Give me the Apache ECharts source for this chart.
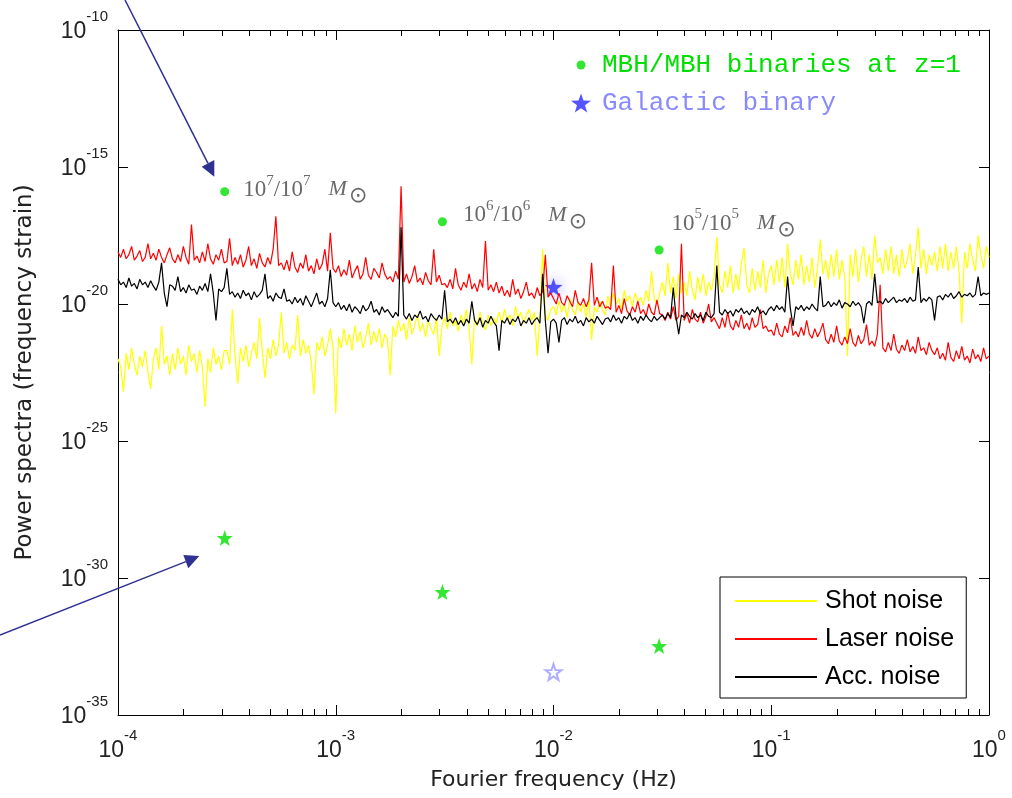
<!DOCTYPE html>
<html>
<head>
<meta charset="utf-8">
<title>Noise power spectra</title>
<script src="https://cdn.jsdelivr.net/npm/echarts@6/dist/echarts.min.js"></script>
<style>
html, body { margin: 0; padding: 0; background: #fff; }
#chart { width: 1012px; height: 798px; }
</style>
</head>
<body>
<div id="chart"></div>
<script>
// log10 of frequency (Hz) of each noise sample
const freqExp = [
    -4, -3.9875, -3.975, -3.9625, -3.95, -3.9375, -3.925, -3.9125, -3.9, -3.8875, -3.875, -3.8625, -3.85, -3.8375, -3.825, -3.8125, -3.8, -3.7875, -3.775, -3.7625,
    -3.75, -3.7375, -3.725, -3.7125, -3.7, -3.6875, -3.675, -3.6625, -3.65, -3.6375, -3.625, -3.6125, -3.6, -3.5875, -3.575, -3.5625, -3.55, -3.5375, -3.525, -3.5125,
    -3.5, -3.4875, -3.475, -3.4625, -3.45, -3.4375, -3.425, -3.4125, -3.4, -3.3875, -3.375, -3.3625, -3.35, -3.3375, -3.325, -3.3125, -3.3, -3.2875, -3.275, -3.2625,
    -3.25, -3.2375, -3.225, -3.2125, -3.2, -3.1875, -3.175, -3.1625, -3.15, -3.1375, -3.125, -3.1125, -3.1, -3.0875, -3.075, -3.0625, -3.05, -3.0375, -3.025, -3.0125,
    -3, -2.9875, -2.975, -2.9625, -2.95, -2.9375, -2.925, -2.9125, -2.9, -2.8875, -2.875, -2.8625, -2.85, -2.8375, -2.825, -2.8125, -2.8, -2.7875, -2.775, -2.7625,
    -2.75, -2.7375, -2.725, -2.7125, -2.7, -2.6875, -2.675, -2.6625, -2.65, -2.6375, -2.625, -2.6125, -2.6, -2.5875, -2.575, -2.5625, -2.55, -2.5375, -2.525, -2.5125,
    -2.5, -2.4875, -2.475, -2.4625, -2.45, -2.4375, -2.425, -2.4125, -2.4, -2.3875, -2.375, -2.3625, -2.35, -2.3375, -2.325, -2.3125, -2.3, -2.2875, -2.275, -2.2625,
    -2.25, -2.2375, -2.225, -2.2125, -2.2, -2.1875, -2.175, -2.1625, -2.15, -2.1375, -2.125, -2.1125, -2.1, -2.0875, -2.075, -2.0625, -2.05, -2.0375, -2.025, -2.0125,
    -2, -1.9875, -1.975, -1.9625, -1.95, -1.9375, -1.925, -1.9125, -1.9, -1.8875, -1.875, -1.8625, -1.85, -1.8375, -1.825, -1.8125, -1.8, -1.7875, -1.775, -1.7625,
    -1.75, -1.7375, -1.725, -1.7125, -1.7, -1.6875, -1.675, -1.6625, -1.65, -1.6375, -1.625, -1.6125, -1.6, -1.5875, -1.575, -1.5625, -1.55, -1.5375, -1.525, -1.5125,
    -1.5, -1.4875, -1.475, -1.4625, -1.45, -1.4375, -1.425, -1.4125, -1.4, -1.3875, -1.375, -1.3625, -1.35, -1.3375, -1.325, -1.3125, -1.3, -1.2875, -1.275, -1.2625,
    -1.25, -1.2375, -1.225, -1.2125, -1.2, -1.1875, -1.175, -1.1625, -1.15, -1.1375, -1.125, -1.1125, -1.1, -1.0875, -1.075, -1.0625, -1.05, -1.0375, -1.025, -1.0125,
    -1, -0.9875, -0.975, -0.9625, -0.95, -0.9375, -0.925, -0.9125, -0.9, -0.8875, -0.875, -0.8625, -0.85, -0.8375, -0.825, -0.8125, -0.8, -0.7875, -0.775, -0.7625,
    -0.75, -0.7375, -0.725, -0.7125, -0.7, -0.6875, -0.675, -0.6625, -0.65, -0.6375, -0.625, -0.6125, -0.6, -0.5875, -0.575, -0.5625, -0.55, -0.5375, -0.525, -0.5125,
    -0.5, -0.4875, -0.475, -0.4625, -0.45, -0.4375, -0.425, -0.4125, -0.4, -0.3875, -0.375, -0.3625, -0.35, -0.3375, -0.325, -0.3125, -0.3, -0.2875, -0.275, -0.2625,
    -0.25, -0.2375, -0.225, -0.2125, -0.2, -0.1875, -0.175, -0.1625, -0.15, -0.1375, -0.125, -0.1125, -0.1, -0.0875, -0.075, -0.0625, -0.05, -0.0375, -0.025, -0.0125,
    0
]
// log10 of the power spectra
const shotExp = [
    -22.0, -22.3, -23.2, -21.8, -22.4, -21.6, -22.2, -22.6, -21.9, -22.3, -21.7, -22.5, -23.1, -22.0, -21.6, -22.4, -20.8, -22.2, -21.9, -22.6,
    -21.8, -22.4, -21.6, -22.2, -21.9, -22.6, -21.5, -22.1, -21.8, -22.5, -21.7, -22.3, -23.75, -22.0, -22.5, -21.6, -22.2, -21.9, -22.4, -21.7,
    -21.7, -22.2, -20.2, -21.9, -22.9, -21.6, -22.1, -21.5, -22.3, -21.8, -21.4, -22.0, -20.5, -21.7, -22.7, -21.6, -22.0, -21.3, -21.9, -21.5,
    -20.3, -21.8, -21.4, -22.0, -21.5, -21.7, -20.4, -21.9, -21.3, -21.8, -21.5, -22.1, -23.3, -21.4, -21.7, -21.2, -21.9, -21.5, -20.9, -21.6,
    -24.0, -21.2, -21.6, -20.9, -21.5, -21.1, -21.7, -20.8, -21.4, -21.0, -21.6, -21.2, -20.7, -21.5, -21.0, -21.4, -20.9, -21.6, -21.1, -21.3,
    -22.6, -20.8, -21.2, -20.6, -21.0, -20.7, -21.3, -20.5, -21.1, -20.8, -20.4, -21.0, -20.7, -21.2, -20.6, -20.9, -21.1, -20.5, -21.9, -20.8,
    -20.5, -20.9, -20.3, -20.8, -20.6, -21.0, -20.4, -20.7, -20.2, -20.9, -22.2, -20.5, -20.8, -20.3, -20.7, -20.95, -20.4, -20.8, -20.5, -20.7,
    -20.3, -20.7, -20.2, -20.6, -20.4, -20.8, -20.1, -20.5, -20.3, -20.7, -20.4, -20.2, -20.6, -20.3, -21.9, -20.5, -18.0, -20.4, -20.6, -20.2,
    -20.1, -20.4, -19.9, -20.3, -20.0, -20.5, -19.8, -20.2, -20.4, -19.9, -20.3, -20.0, -20.5, -19.8, -21.3, -20.1, -20.3, -19.9, -20.2, -20.4,
    -19.7, -20.1, -19.6, -20.0, -19.8, -20.2, -19.5, -19.9, -19.7, -20.1, -19.6, -19.95, -19.75, -20.05, -19.5, -19.9, -18.8, -19.8, -20.0, -19.6,
    -19.2, -19.7, -18.5, -19.6, -19.0, -19.8, -18.9, -19.6, -19.2, -19.7, -18.8, -19.5, -19.85, -19.0, -19.6, -18.9, -19.7, -19.2, -19.5, -19.0,
    -17.55, -19.3, -19.6, -18.8, -19.4, -18.6, -19.6, -18.9, -19.5, -18.5, -17.95, -19.3, -19.6, -18.7, -19.5, -18.8, -19.4, -18.4, -19.6, -18.9,
    -18.6, -19.3, -18.4, -19.2, -18.3, -19.4, -17.8, -18.9, -19.3, -18.4, -19.1, -18.2, -19.3, -18.6, -19.2, -18.3, -19.4, -18.7, -17.65, -18.9,
    -18.4, -19.1, -18.2, -19.0, -18.0, -19.1, -18.4, -19.0, -21.9, -18.2, -19.0, -18.0, -19.2, -18.4, -17.9, -19.0, -18.2, -19.1, -17.5, -18.5,
    -18.3, -18.9, -18.0, -18.8, -17.9, -18.9, -18.2, -19.0, -18.0, -18.7, -18.4, -17.8, -18.9, -18.2, -17.2, -18.7, -18.0, -18.9, -18.2, -18.6,
    -18.1, -18.8, -17.9, -18.7, -17.8, -18.8, -18.1, -18.7, -17.9, -18.8, -20.7, -18.1, -18.7, -17.8, -18.4, -18.8, -17.5, -18.2, -18.7, -17.9,
    -18.3
]
const laserExp = [
    -18.1, -18.3, -18.0, -18.35, -18.2, -17.9, -18.4, -18.25, -18.05, -18.45, -18.3, -17.8, -18.35, -18.15, -18.4, -18.0, -18.3, -18.5, -18.2, -17.95,
    -18.35, -18.5, -18.2, -18.45, -17.9, -18.3, -18.55, -17.1, -18.4, -18.25, -18.5, -18.1, -18.45, -17.8, -18.35, -18.55, -18.2, -18.4, -18.0, -18.5,
    -18.45, -17.6, -18.6, -18.3, -18.55, -18.2, -18.65, -18.4, -17.9, -18.6, -18.35, -18.7, -18.15, -18.5, -18.65, -18.3, -18.55, -18.0, -16.8, -18.6,
    -18.5, -18.75, -18.4, -18.8, -18.1, -18.65, -18.85, -18.5, -18.7, -18.2, -18.8, -18.6, -18.9, -18.35, -18.75, -18.55, -18.0, -18.8, -17.4, -18.7,
    -18.85, -18.6, -19.0, -18.75, -18.95, -18.4, -19.05, -18.8, -18.6, -19.1, -18.9, -18.3, -18.95, -19.1, -18.7, -18.85, -19.05, -18.5, -18.9, -19.1,
    -19.0, -19.2, -18.8, -19.1, -15.7, -19.2, -18.9, -19.25, -19.0, -18.6, -19.2, -19.05, -19.3, -18.85, -19.15, -19.3, -18.0, -19.2, -18.95, -19.3,
    -19.25, -19.4, -19.1, -19.45, -18.7, -19.3, -19.5, -19.2, -19.4, -18.9, -19.45, -19.25, -19.55, -19.1, -19.4, -17.7, -19.5, -19.3, -19.55, -19.2,
    -19.6, -19.35, -19.7, -19.5, -19.75, -19.1, -19.65, -19.45, -19.8, -19.55, -19.2, -19.7, -19.6, -19.8, -19.4, -19.7, -19.55, -18.2, -19.75, -19.6,
    -19.8, -20.0, -19.6, -19.95, -20.05, -19.7, -19.9, -20.1, -19.5, -19.95, -20.05, -19.8, -20.1, -19.85, -18.5, -20.05, -19.75, -20.1, -19.9, -20.15,
    -20.1, -20.2, -18.6, -20.3, -20.05, -20.35, -19.8, -20.25, -20.4, -20.1, -20.3, -19.9, -20.35, -20.2, -20.45, -20.0, -20.3, -20.4, -19.85, -20.35,
    -20.4, -20.6, -20.3, -20.55, -20.1, -20.6, -20.45, -17.8, -20.6, -20.35, -20.7, -20.2, -20.55, -20.65, -20.3, -20.7, -20.45, -20.0, -20.65, -20.5,
    -20.7, -20.9, -20.5, -20.85, -20.3, -20.8, -20.95, -20.6, -20.85, -20.4, -20.9, -20.7, -20.95, -20.5, -20.85, -20.75, -20.2, -20.9, -20.8, -21.0,
    -20.95, -21.15, -20.7, -21.1, -21.2, -20.8, -21.05, -20.5, -21.15, -21.0, -21.2, -20.85, -21.15, -20.6, -21.1, -21.25, -20.9, -21.2, -21.0, -20.7,
    -21.3, -21.45, -21.1, -21.4, -20.8, -21.35, -21.5, -21.2, -21.45, -20.9, -21.4, -21.55, -21.15, -21.45, -21.3, -20.75, -21.5, -21.35, -21.55, -21.1,
    -19.3, -21.6, -21.75, -21.4, -21.7, -21.1, -21.65, -21.8, -21.5, -21.7, -21.3, -21.75, -21.55, -21.8, -21.2, -21.7, -21.6, -21.85, -21.4, -21.7,
    -21.85, -21.6, -22.0, -21.8, -22.05, -21.4, -21.95, -22.1, -21.7, -22.0, -21.55, -22.05, -21.9, -22.15, -21.65, -22.0, -21.85, -22.1, -21.6, -22.0,
    -21.9
]
const accExp = [
    -19.1, -19.3, -19.2, -19.4, -19.05, -19.35, -19.25, -19.45, -19.1, -19.3, -19.2, -19.4, -19.15, -19.35, -19.5, -19.2, -18.5, -19.6, -20.1, -19.3,
    -19.35, -19.5, -19.0, -19.55, -19.4, -19.6, -19.3, -19.5, -19.45, -19.65, -19.35, -19.5, -19.25, -19.55, -18.9, -19.6, -20.6, -19.45, -19.55, -19.4,
    -18.7, -19.65, -19.55, -19.75, -19.6, -19.8, -19.5, -19.7, -19.6, -19.85, -19.55, -19.75, -19.65, -19.5, -18.9, -19.8, -19.7, -19.9, -19.6, -19.75,
    -19.8, -19.45, -19.9, -19.85, -20.0, -19.75, -19.95, -19.8, -20.05, -19.7, -19.9, -20.1, -19.85, -19.6, -20.0, -19.9, -20.1, -19.8, -18.75, -19.95,
    -20.1, -19.95, -20.2, -20.05, -20.25, -20.0, -20.3, -20.1, -20.2, -20.35, -20.05, -20.25, -20.15, -19.9, -20.3, -20.2, -20.4, -20.1, -20.3, -20.2,
    -20.35, -20.5, -20.3, -20.45, -17.2, -20.4, -20.55, -20.35, -20.6, -20.4, -20.5, -20.25, -20.55, -20.45, -20.65, -20.35, -20.5, -20.6, -20.4, -20.55,
    -19.5, -20.65, -20.55, -20.7, -20.5, -20.75, -20.6, -20.8, -20.55, -20.7, -19.9, -20.6, -20.75, -20.5, -20.85, -20.6, -20.7, -20.45, -20.65, -20.8,
    -21.7, -20.6, -20.7, -20.5, -20.75, -20.55, -20.65, -20.45, -20.8, -20.6, -20.7, -20.5, -20.75, -20.6, -20.5, -20.7, -18.9, -20.6, -21.8, -20.65,
    -20.55, -20.7, -21.4, -20.6, -20.5, -20.75, -20.55, -20.65, -20.45, -20.7, -20.6, -20.8, -20.5, -20.65, -20.55, -20.7, -20.45, -20.6, -20.75, -20.55,
    -20.5, -20.65, -20.4, -20.6, -20.5, -20.7, -20.45, -20.55, -20.35, -20.6, -20.5, -20.7, -20.45, -20.6, -20.4, -20.55, -20.65, -20.45, -20.6, -20.5,
    -20.4, -20.55, -20.35, -20.5, -19.4, -20.45, -21.1, -20.4, -20.5, -20.3, -20.45, -20.55, -20.35, -20.5, -20.4, -20.6, -20.3, -20.45, -20.5, -20.35,
    -18.6, -20.3, -20.4, -20.2, -20.35, -20.25, -20.45, -20.2, -20.3, -20.15, -20.35, -20.25, -20.4, -20.2, -20.3, -20.1, -20.35, -20.25, -20.4, -20.2,
    -20.1, -20.25, -20.05, -20.2, -20.1, -20.3, -19.0, -20.15, -20.8, -20.1, -20.2, -20.05, -20.25, -20.1, -20.2, -20.0, -20.15, -20.25, -19.0, -20.1,
    -20.05, -19.9, -20.1, -19.95, -20.05, -19.85, -20.15, -19.95, -20.0, -20.1, -19.9, -20.05, -19.95, -20.1, -20.7, -20.0, -19.9, -20.05, -18.9, -19.95,
    -19.9, -20.0, -19.8, -19.95, -19.85, -19.75, -19.95, -19.85, -19.9, -19.8, -19.95, -19.75, -19.9, -19.85, -18.65, -19.95, -19.8, -19.9, -19.75, -19.85,
    -20.6, -19.75, -19.7, -19.85, -19.65, -19.75, -19.6, -19.8, -19.7, -19.55, -19.75, -19.65, -19.7, -19.6, -19.75, -19.65, -19.0, -19.7, -19.6, -19.65,
    -19.6
]

// MBH/MBH binaries at z=1 (masses 10^7, 10^6, 10^5 Msun)
const mbhMassExp = [7, 6, 5]
const mbhFreqExp = [-3.51, -2.51, -1.515]
const mbhPeakExp = [-15.9, -17.0, -18.03]
const mbhStarExp = [-28.54, -30.51, -32.48]
// galactic binary
const galFreqExp = [-2.0]
const galPeakExp = [-19.38]
const galStarExp = [-33.43]

const xTickExp = [-4, -3, -2, -1, 0]
const yTickExp = [-35, -30, -25, -20, -15, -10]

// minor ticks at 2..9 x 10^n
const xMinorTicks = []
for (let d = -4; d < 0; d++) {
    for (let k = 2; k <= 9; k++) xMinorTicks.push(d + Math.log10(k))
}

// label shifts for the mass annotations (style only)
const massLabelShift = [[0, -3], [2, -8], [-6, -28]]

const starPath = 'path://M0,-10L2.35,-3.24L9.51,-3.09L3.8,1.24L5.88,8.09L0,4.1L-5.88,8.09L-3.8,1.24L-9.51,-3.09L-2.35,-3.24Z'
const dotIcon = 'path://M0,0M20,20M10,5.5A4.5,4.5 0 1 1 9.99,5.5Z'
const green = '#00e000'
const arrowBlue = '#2e3192'

const chart = echarts.init(document.getElementById('chart'))

const pairs = (xs, ys) => ys.map((y, i) => [xs[i], y])

// "10" with a raised exponent; tokens are top aligned, padding sets the offset
const tickRich = {
    b: { fontSize: 23, fontFamily: 'Liberation Sans', color: '#222', lineHeight: 41, padding: [11, 0, 0, 0], verticalAlign: 'top' },
    s: { fontSize: 15, fontFamily: 'Liberation Sans', color: '#222', lineHeight: 16, verticalAlign: 'top' }
}
const powLabel = v => '{b|10}{s|' + v + '}'

const massRich = {
    n: { fontSize: 23, fontFamily: 'Liberation Serif', color: '#444', lineHeight: 34, padding: [7, 0, 0, 0], verticalAlign: 'top' },
    s: { fontSize: 15, fontFamily: 'Liberation Serif', color: '#444', lineHeight: 14, padding: [2, 0, 0, 0], verticalAlign: 'top' },
    m: { fontSize: 22, fontFamily: 'Liberation Serif', fontStyle: 'italic', color: '#444', lineHeight: 22, padding: [7, 0, 0, 18], verticalAlign: 'top' },
    o: { fontSize: 22, fontFamily: 'DejaVu Sans', color: '#444', lineHeight: 16, padding: [14, 0, 0, 2], verticalAlign: 'top' }
}

const mbhData = mbhPeakExp.map((y, i) => ({
    value: [mbhFreqExp[i], y],
    label: {
        offset: massLabelShift[i],
        formatter: '{n|10}{s|' + mbhMassExp[i] + '}{n|/10}{s|' + mbhMassExp[i] + '}{m|M}{o|⊙}'
    }
}))

const frameLine = { onZero: false, lineStyle: { color: '#000', width: 1 } }

const option = {
    animation: false,
    backgroundColor: '#fff',
    grid: { left: 118, right: 23, top: 30, bottom: 83 },
    legend: [{
        orient: 'vertical',
        left: 566,
        top: 47,
        itemWidth: 20,
        itemHeight: 20,
        itemGap: 12,
        selectedMode: false,
        textStyle: { fontFamily: 'Liberation Mono', fontSize: 26, lineHeight: 24, padding: [0, 0, 0, 6] },
        data: [
            { name: 'MBH/MBH binaries at z=1', icon: dotIcon, textStyle: { color: green } },
            { name: 'Galactic binary', textStyle: { color: '#8a8aff' } }
        ]
    }, {
        orient: 'vertical',
        left: 720,
        top: 577,
        padding: [11, 12, 8, 15],
        itemWidth: 82,
        itemHeight: 2,
        itemGap: 12,
        icon: 'rect',
        selectedMode: false,
        backgroundColor: '#fff',
        borderColor: '#000',
        borderWidth: 1,
        borderRadius: 0,
        textStyle: { fontFamily: 'Liberation Sans', fontSize: 25, lineHeight: 26, color: '#000', padding: [0, 0, 0, 3] },
        data: ['Shot noise', 'Laser noise', 'Acc. noise']
    }],
    xAxis: [{
        type: 'value',
        min: xTickExp[0],
        max: xTickExp[xTickExp.length - 1],
        interval: 1,
        position: 'bottom',
        name: 'Fourier frequency (Hz)',
        nameLocation: 'middle',
        nameGap: 54,
        nameTextStyle: { fontFamily: 'DejaVu Sans', fontSize: 22, color: '#222' },
        axisLine: frameLine,
        axisTick: { inside: true, length: 10, lineStyle: { color: '#000' } },
        axisLabel: { margin: 13, formatter: powLabel, rich: tickRich },
        splitLine: { show: false }
    }, {
        type: 'value',
        min: xTickExp[0],
        max: xTickExp[xTickExp.length - 1],
        interval: 1,
        position: 'top',
        axisLine: frameLine,
        axisTick: { inside: true, length: 10, lineStyle: { color: '#000' } },
        axisLabel: { show: false },
        splitLine: { show: false }
    }, {
        type: 'value',
        min: xTickExp[0],
        max: xTickExp[xTickExp.length - 1],
        position: 'bottom',
        axisLine: { show: false, onZero: false },
        axisTick: { inside: true, length: 6, customValues: xMinorTicks, lineStyle: { color: '#000' } },
        axisLabel: { show: false },
        splitLine: { show: false }
    }, {
        type: 'value',
        min: xTickExp[0],
        max: xTickExp[xTickExp.length - 1],
        position: 'top',
        axisLine: { show: false, onZero: false },
        axisTick: { inside: true, length: 6, customValues: xMinorTicks, lineStyle: { color: '#000' } },
        axisLabel: { show: false },
        splitLine: { show: false }
    }],
    yAxis: [{
        type: 'value',
        min: yTickExp[0],
        max: yTickExp[yTickExp.length - 1],
        interval: 5,
        position: 'left',
        name: 'Power spectra (frequency strain)',
        nameLocation: 'middle',
        nameGap: 81,
        nameTextStyle: { fontFamily: 'DejaVu Sans', fontSize: 23, color: '#222' },
        axisLine: Object.assign({ show: true }, frameLine),
        axisTick: { show: true, inside: true, length: 10, lineStyle: { color: '#000' } },
        axisLabel: { margin: 10, formatter: powLabel, rich: tickRich },
        splitLine: { show: false }
    }, {
        type: 'value',
        min: yTickExp[0],
        max: yTickExp[yTickExp.length - 1],
        interval: 5,
        position: 'right',
        axisLine: Object.assign({ show: true }, frameLine),
        axisTick: { show: true, inside: true, length: 10, lineStyle: { color: '#000' } },
        axisLabel: { show: false },
        splitLine: { show: false }
    }],
    series: [{
        name: 'Shot noise',
        type: 'line',
        symbol: 'none',
        color: '#ffff00',
        lineStyle: { width: 1.2, color: '#ffff00' },
        data: pairs(freqExp, shotExp)
    }, {
        name: 'Laser noise',
        type: 'line',
        symbol: 'none',
        color: '#ff0000',
        lineStyle: { width: 1.2, color: '#ff0000' },
        data: pairs(freqExp, laserExp)
    }, {
        name: 'Acc. noise',
        type: 'line',
        symbol: 'none',
        color: '#000',
        lineStyle: { width: 1.2, color: '#000' },
        data: pairs(freqExp, accExp)
    }, {
        name: 'MBH/MBH binaries at z=1',
        type: 'scatter',
        symbol: 'circle',
        symbolSize: 9,
        itemStyle: { color: green },
        label: {
            show: true,
            position: 'right',
            distance: 14,
            rich: massRich
        },
        data: mbhData
    }, {
        name: 'MBH stars',
        type: 'scatter',
        symbol: starPath,
        symbolSize: 16,
        itemStyle: { color: green },
        data: pairs(mbhFreqExp, mbhStarExp)
    }, {
        name: 'Galactic binary',
        type: 'scatter',
        symbol: starPath,
        symbolSize: 18,
        itemStyle: { color: '#2a2aff', shadowBlur: 14, shadowColor: 'rgba(90,90,255,0.8)' },
        data: pairs(galFreqExp, galPeakExp)
    }, {
        name: 'Galactic star',
        type: 'scatter',
        symbol: starPath,
        symbolSize: 16,
        itemStyle: { color: '#fff', borderColor: '#9a9aff', borderWidth: 2 },
        data: pairs(galFreqExp, galStarExp)
    }],
    // annotation arrows
    graphic: [
        { type: 'line', z: 100, shape: { x1: 125, y1: 0, x2: 208, y2: 163.3 }, style: { stroke: arrowBlue, lineWidth: 1.5 } },
        { type: 'polygon', z: 100, shape: { points: [[214.3, 176.7], [201.7, 166.7], [214.3, 160]] }, style: { fill: arrowBlue } },
        { type: 'line', z: 100, shape: { x1: 0, y1: 635, x2: 185.8, y2: 561.6 }, style: { stroke: arrowBlue, lineWidth: 1.5 } },
        { type: 'polygon', z: 100, shape: { points: [[199.3, 556], [183.3, 555], [188.3, 568.3]] }, style: { fill: arrowBlue } }
    ]
}

chart.setOption(option)
</script>
</body>
</html>
